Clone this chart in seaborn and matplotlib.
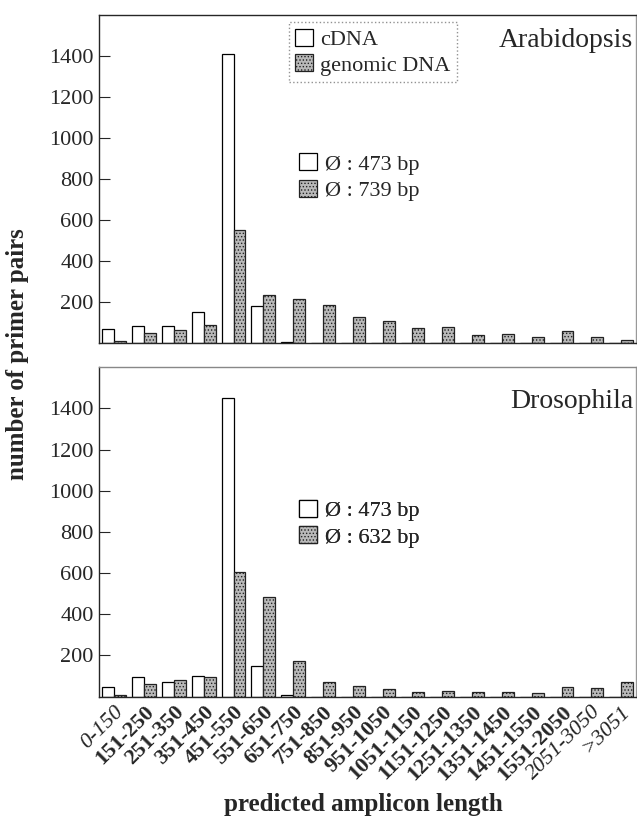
import pandas as pd
import numpy as np
import matplotlib
matplotlib.use('Agg')
import matplotlib.pyplot as plt
import seaborn as sns
from matplotlib.patches import Patch

# Data
bins = ['0-150', '151-250', '251-350', '351-450', '451-550', '551-650', '651-750',
        '751-850', '851-950', '951-1050', '1051-1150', '1151-1250', '1251-1350',
        '1351-1450', '1451-1550', '1551-2050', '2051-3050', '>3051']

arab_cdna = [68, 83, 85, 151, 1410, 182, 5, 0, 0, 0, 0, 0, 0, 0, 0, 0, 0, 0]
arab_genomic = [10, 52, 65, 89, 552, 236, 213, 185, 128, 110, 75, 78, 41, 45, 31, 60, 28, 15]

dros_cdna = [48, 95, 71, 100, 1450, 148, 6, 0, 0, 0, 0, 0, 0, 0, 0, 0, 0, 0]
dros_genomic = [10, 60, 79, 95, 608, 485, 173, 71, 50, 39, 23, 27, 23, 21, 16, 47, 42, 73]

series = ['cDNA', 'genomic DNA']
arab_means = ['\u00d8 : 473 bp', '\u00d8 : 739 bp']
dros_means = ['\u00d8 : 473 bp', '\u00d8 : 632 bp']
italic_bins = ['0-150', '2051-3050', '>3051']

sns.set_style('ticks')
plt.rcParams['font.family'] = ['Liberation Serif', 'DejaVu Serif']
plt.rcParams['hatch.color'] = '#444444'
plt.rcParams['hatch.linewidth'] = 0.6

white = 'white'
grey = '#b9b9b9'


def make_df(cdna, genomic):
    df = pd.DataFrame({'bin': bins * 2,
                       'count': cdna + genomic,
                       'type': [series[0]] * len(bins) + [series[1]] * len(bins)})
    return df


fig = plt.figure(figsize=(6.37, 8.23), dpi=100)
ax1 = fig.add_axes([0.156, 0.583, 0.8425, 0.399])
ax2 = fig.add_axes([0.156, 0.1535, 0.8425, 0.4002])

for ax, cdna, genomic, name, means in [(ax1, arab_cdna, arab_genomic, 'Arabidopsis', arab_means),
                                       (ax2, dros_cdna, dros_genomic, 'Drosophila', dros_means)]:
    df = make_df(cdna, genomic)
    sns.barplot(data=df, x='bin', y='count', hue='type', order=bins, hue_order=series,
                palette=[white, grey], width=0.8, edgecolor='black', linewidth=0.9,
                legend=False, ax=ax)
    # stipple pattern on genomic bars
    for p in ax.patches[len(bins):]:
        p.set_hatch('.....')
        p.set_edgecolor('#222222')
    ax.set_xlim(-0.5, len(bins) - 0.5)
    ax.set_ylim(0, 1600)
    ax.set_yticks(range(200, 1401, 200))
    ax.tick_params(axis='y', direction='in', length=8, width=0.8, labelsize=16, pad=4)
    ax.tick_params(axis='x', length=0)
    ax.set_xlabel('')
    ax.set_ylabel('')
    for s in ax.spines.values():
        s.set_visible(True)
        s.set_linewidth(1.0)
    ax.spines['right'].set_color('#999999')
    ax.text(0.995, 0.96 if name == 'Arabidopsis' else 0.935, name, transform=ax.transAxes,
            ha='right', va='top', fontsize=20)

    h_means = [Patch(facecolor=white, edgecolor='black', linewidth=0.9),
               Patch(facecolor=grey, edgecolor='#222222', hatch='.....', linewidth=0.9)]
    leg_m = ax.legend(h_means, means, loc='upper left',
                      bbox_to_anchor=(0.355, 0.605 if name == 'Arabidopsis' else 0.625),
                      frameon=False, fontsize=16, handlelength=0.8, handleheight=0.8,
                      handletextpad=0.4, labelspacing=0.25, borderaxespad=0)
    ax.add_artist(leg_m)

ax1.set_xticklabels([])
ax2.spines['top'].set_color('#888888')

# series legend
h_series = [Patch(facecolor=white, edgecolor='black', linewidth=0.9),
            Patch(facecolor=grey, edgecolor='#222222', hatch='.....', linewidth=0.9)]
leg = ax1.legend(h_series, series, loc='upper left', bbox_to_anchor=(0.353, 0.978),
                 fontsize=16, handlelength=0.8, handleheight=0.8, handletextpad=0.3,
                 labelspacing=0.2, borderaxespad=0, borderpad=0.3, fancybox=False)
leg.get_frame().set_edgecolor('#777777')
leg.get_frame().set_linestyle(':')
leg.get_frame().set_linewidth(1.0)

# rotated x tick labels, some italic
ax2.set_xticks(range(len(bins)))
ax2.set_xticklabels(bins, rotation=45, ha='right', rotation_mode='anchor', fontsize=16)
for lab in ax2.get_xticklabels():
    if lab.get_text() in italic_bins:
        lab.set_fontstyle('italic')
    else:
        lab.set_fontweight('bold')
ax2.tick_params(axis='x', pad=4)

fig.text(0.028, 0.57, 'number of primer pairs', rotation=90, ha='center', va='center',
         fontsize=18, fontweight='bold')
fig.text(0.57, 0.022, 'predicted amplicon length', ha='center', va='center',
         fontsize=18, fontweight='bold')

fig.savefig('out.png', dpi=100)
